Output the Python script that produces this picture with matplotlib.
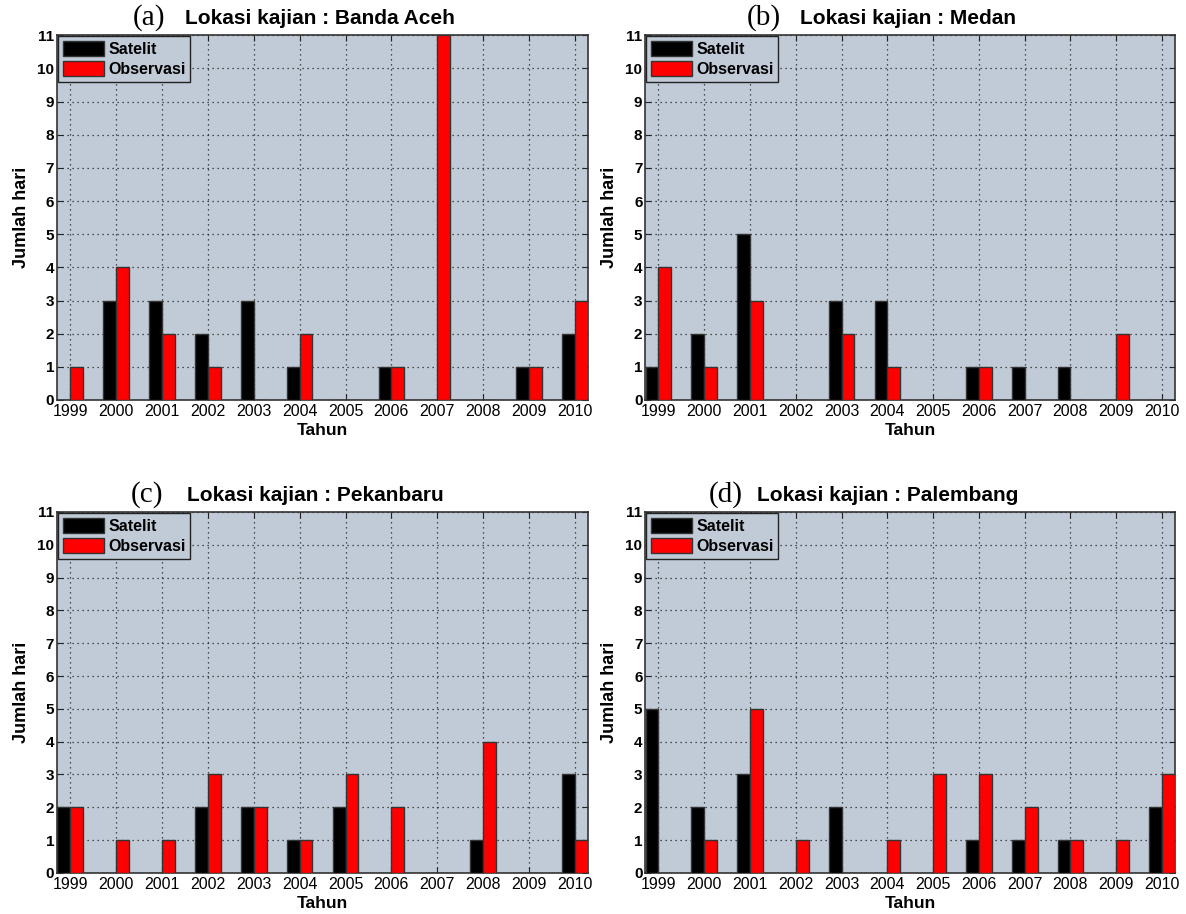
import numpy as np
import matplotlib.pyplot as plt

years = list(range(1999, 2011))

# panel (a) Banda Aceh
aceh_sat = [0, 3, 3, 2, 3, 1, 0, 1, 0, 0, 1, 2]
aceh_obs = [1, 4, 2, 1, 0, 2, 0, 1, 11, 0, 1, 3]
# panel (b) Medan
medan_sat = [1, 2, 5, 0, 3, 3, 0, 1, 1, 1, 0, 0]
medan_obs = [4, 1, 3, 0, 2, 1, 0, 1, 0, 0, 2, 0]
# panel (c) Pekanbaru
pku_sat = [2, 0, 0, 2, 2, 1, 2, 0, 0, 1, 0, 3]
pku_obs = [2, 1, 1, 3, 2, 1, 3, 2, 0, 4, 0, 1]
# panel (d) Palembang
plg_sat = [5, 2, 3, 0, 2, 0, 0, 1, 1, 1, 0, 2]
plg_obs = [0, 1, 5, 1, 0, 1, 3, 3, 2, 1, 1, 3]

panels = [
    ('(a)', 'Lokasi kajian : Banda Aceh', aceh_sat, aceh_obs, [0.048, 0.5624, 0.448, 0.399], 0.143, 0.241),
    ('(b)', 'Lokasi kajian : Medan', medan_sat, medan_obs, [0.544, 0.5624, 0.447, 0.399], 0.192, 0.292),
    ('(c)', 'Lokasi kajian : Pekanbaru', pku_sat, pku_obs, [0.048, 0.0449, 0.448, 0.395], 0.138, 0.245),
    ('(d)', 'Lokasi kajian : Palembang', plg_sat, plg_obs, [0.544, 0.0449, 0.447, 0.395], 0.119, 0.211),
]

plt.rcParams['font.family'] = ['Liberation Sans', 'DejaVu Sans']
fig = plt.figure(figsize=(11.86, 9.14), dpi=100)

bw = 0.28
x = np.array(years)

for tag, title, sat, obs, pos, tag_x, title_x in panels:
    ax = fig.add_axes(pos)
    ax.set_facecolor('#C1CBD7')
    ax.bar(x - bw / 2, sat, bw, color='black', edgecolor='#333333', linewidth=1, label='Satelit', zorder=3)
    ax.bar(x + bw / 2, obs, bw, color='#FF0000', edgecolor='#333333', linewidth=1, label='Observasi', zorder=3)
    ax.set_xlim(1999 - bw - 0.01, 2010 + bw + 0.01)
    ax.set_ylim(0, 11)
    ax.set_xticks(years)
    ax.set_yticks(range(0, 12))
    ax.set_xticklabels([str(y) for y in years], fontsize=11.5)
    ax.set_yticklabels([str(v) for v in range(0, 12)], fontsize=11, fontweight='bold')
    ax.tick_params(direction='in', top=True, right=True, length=4, pad=2, color='#222222')
    ax.tick_params(axis='x', pad=3)
    ax.grid(True, linestyle=(0, (1, 3)), color='#222222', linewidth=0.9, zorder=1)
    ax.set_axisbelow(True)
    for sp in ax.spines.values():
        sp.set_color('#333333')
        sp.set_linewidth(1.2)
    ax.set_xlabel('Tahun', fontsize=12.5, fontweight='bold', labelpad=3)
    ax.set_ylabel('Jumlah hari', fontsize=13, fontweight='bold', labelpad=5)
    leg = ax.legend(loc='upper left', borderaxespad=0.05, handlelength=2.6,
                    handleheight=1.1, handletextpad=0.25, labelspacing=0.25, borderpad=0.3,
                    fancybox=False, framealpha=1, facecolor='#C1CBD7', edgecolor='#222222',
                    prop={'weight': 'bold', 'size': 11.5})
    leg.get_frame().set_linewidth(1.0)
    ax.text(tag_x, 1.012, tag, transform=ax.transAxes, ha='left', va='bottom',
            fontsize=21, family=['Liberation Serif', 'DejaVu Serif'])
    ax.text(title_x, 1.02, title, transform=ax.transAxes, ha='left', va='bottom',
            fontsize=15, fontweight='bold')

plt.savefig('out.png', dpi=100)
